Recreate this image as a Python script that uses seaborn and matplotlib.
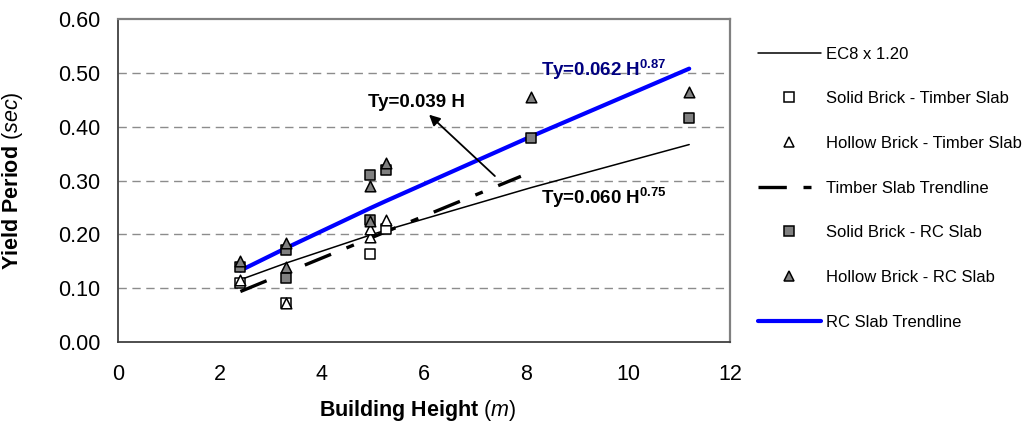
import numpy as np
import pandas as pd
import matplotlib
matplotlib.use("Agg")
import matplotlib.pyplot as plt
import seaborn as sns
from matplotlib.lines import Line2D

# data
h_ec8 = [2.4, 3.3, 4.95, 5.25, 8.1, 11.2]
t_ec8 = [0.116, 0.147, 0.199, 0.208, 0.287, 0.367]

h_rc_trend = [2.4, 3.3, 4.95, 5.25, 8.1, 11.2]
t_rc_trend = [0.133, 0.175, 0.249, 0.262, 0.382, 0.508]

h_timber_trend = [2.4, 7.9]
t_timber_trend = [0.094, 0.308]

h_solid_timber = [2.4, 3.3, 4.95, 5.25]
t_solid_timber = [0.110, 0.072, 0.163, 0.210]

h_hollow_timber = [2.4, 3.3, 4.95, 4.95, 5.25]
t_hollow_timber = [0.115, 0.072, 0.195, 0.210, 0.227]

h_solid_rc = [2.4, 3.3, 3.3, 4.95, 4.95, 5.25, 8.1, 11.2]
t_solid_rc = [0.140, 0.171, 0.120, 0.310, 0.227, 0.320, 0.379, 0.416]

h_hollow_rc = [2.4, 3.3, 3.3, 4.95, 4.95, 5.25, 8.1, 11.2]
t_hollow_rc = [0.150, 0.185, 0.139, 0.290, 0.225, 0.333, 0.455, 0.465]

sns.set_style("white")
plt.rcParams['font.family'] = ['Liberation Sans', 'DejaVu Sans']
plt.rcParams['mathtext.fontset'] = 'custom'
plt.rcParams['mathtext.rm'] = 'Liberation Sans'
plt.rcParams['mathtext.it'] = 'Liberation Sans:italic'
plt.rcParams['mathtext.bf'] = 'Liberation Sans:bold'
plt.rcParams['text.color'] = 'black'
plt.rcParams['axes.labelcolor'] = 'black'

fig = plt.figure(figsize=(10.26, 4.25), dpi=100)
ax = fig.add_axes([0.115, 0.195, 0.5965, 0.76])

# lines
sns.lineplot(x=h_ec8, y=t_ec8, ax=ax, color='black', lw=1.1, errorbar=None)
sns.lineplot(x=h_timber_trend, y=t_timber_trend, ax=ax, color='black', lw=2.4,
             linestyle=(0, (8.5, 5, 2.4, 5)), errorbar=None)
sns.lineplot(x=h_rc_trend, y=t_rc_trend, ax=ax, color='#0000FF', lw=3, errorbar=None)

# points
ms = 48
sns.scatterplot(x=h_solid_timber, y=t_solid_timber, ax=ax, marker='s', s=ms,
                color='white', edgecolor='black', linewidth=1.1, zorder=3)
sns.scatterplot(x=h_hollow_timber, y=t_hollow_timber, ax=ax, marker='^', s=ms + 10,
                color='white', edgecolor='black', linewidth=1.1, zorder=3)
sns.scatterplot(x=h_solid_rc, y=t_solid_rc, ax=ax, marker='s', s=ms,
                color='#808080', edgecolor='black', linewidth=1.1, zorder=3)
sns.scatterplot(x=h_hollow_rc, y=t_hollow_rc, ax=ax, marker='^', s=ms + 10,
                color='#808080', edgecolor='black', linewidth=1.1, zorder=3)

ax.set_xlim(0, 12)
ax.set_ylim(0, 0.6)
ax.set_xticks(np.arange(0, 13, 2))
ax.set_yticks(np.arange(0, 0.61, 0.1))
ax.set_yticklabels([f"{v:.2f}" for v in np.arange(0, 0.61, 0.1)])
ax.tick_params(labelsize=15.5, length=5, width=1, color='#404040',
               labelcolor='black', direction='out')
ax.tick_params(axis='x', pad=11)
ax.tick_params(axis='y', pad=7.5)
for y in [0.1, 0.2, 0.3, 0.4, 0.5]:
    ax.axhline(y, color='#8c8c8c', lw=1, linestyle=(0, (6, 4)), zorder=0)

for s in ['left', 'bottom']:
    ax.spines[s].set_color('#404040')
    ax.spines[s].set_linewidth(1.3)
for s in ['top', 'right']:
    ax.spines[s].set_color('#808080')
    ax.spines[s].set_linewidth(1.6)

ax.set_xlabel(r'Building Height $\mathit{(m)}$', fontsize=15.5, fontweight='bold')
ax.set_ylabel(r'Yield Period $\mathit{(sec)}$', fontsize=15.5, fontweight='bold')
ax.xaxis.set_label_coords(0.49, -0.172)
ax.yaxis.set_label_coords(-0.152, 0.5)

# equation labels
ax.text(5.86, 0.446, 'Ty=0.039 H', fontsize=13.5, fontweight='bold', ha='center', va='center')
ax.annotate('', xy=(6.06, 0.426), xytext=(7.43, 0.305),
            arrowprops=dict(arrowstyle='-|>', color='black', lw=1.3, mutation_scale=16))
ax.text(8.3, 0.506, r'Ty=0.062 H$^{\mathbf{0.87}}$', fontsize=13.5, fontweight='bold',
        color='#000080', ha='left', va='center')
ax.text(8.3, 0.268, r'Ty=0.060 H$^{\mathbf{0.75}}$', fontsize=13.5, fontweight='bold',
        color='black', ha='left', va='center')

handles = [
    Line2D([], [], color='black', lw=1.1),
    Line2D([], [], ls='none', marker='s', ms=6.5, mfc='white', mec='black', mew=1.1),
    Line2D([], [], ls='none', marker='^', ms=7, mfc='white', mec='black', mew=1.1),
    Line2D([], [], color='black', lw=2.4, linestyle=(0, (8.5, 5, 2.4, 5))),
    Line2D([], [], ls='none', marker='s', ms=6.5, mfc='#808080', mec='black', mew=1.1),
    Line2D([], [], ls='none', marker='^', ms=7, mfc='#808080', mec='black', mew=1.1),
    Line2D([], [], color='#0000FF', lw=3),
]
labels = ['EC8 x 1.20', 'Solid Brick - Timber Slab', 'Hollow Brick - Timber Slab',
          'Timber Slab Trendline', 'Solid Brick - RC Slab', 'Hollow Brick - RC Slab',
          'RC Slab Trendline']
fig.legend(handles, labels, loc='upper left', bbox_to_anchor=(0.732, 0.906),
           frameon=False, fontsize=12, handlelength=3.8, handletextpad=0.3,
           labelspacing=1.78, borderaxespad=0)

fig.savefig('out.png', dpi=100)
